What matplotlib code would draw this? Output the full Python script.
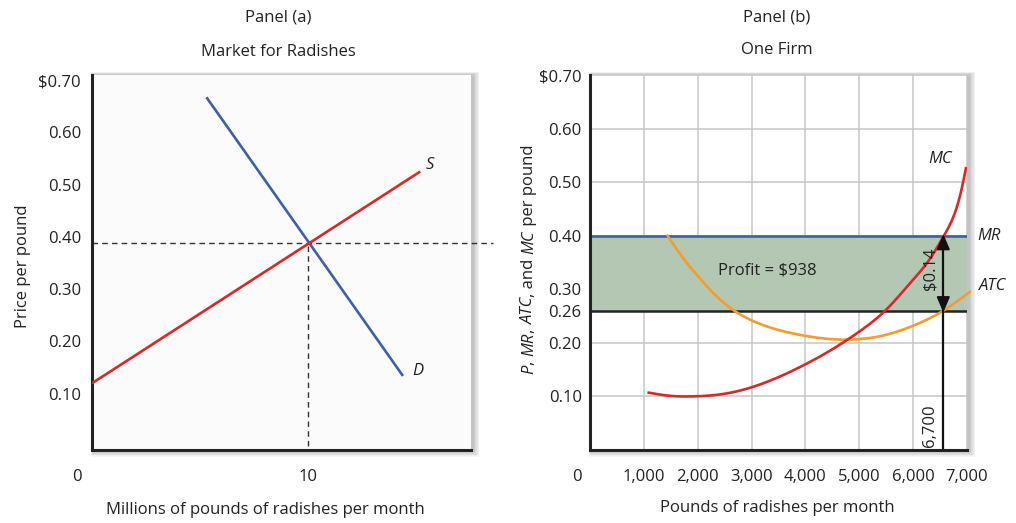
import numpy as np
import matplotlib
matplotlib.use("Agg")
import matplotlib.pyplot as plt
from matplotlib.patches import Rectangle, Polygon

plt.rcParams['font.family'] = ['Open Sans', 'DejaVu Sans']

# ---------------- data ----------------
# Panel (a): market
supply_q = [0.0, 15.2]
supply_p = [0.12, 0.525]
demand_q = [5.3, 14.4]
demand_p = [0.667, 0.134]
eq_q = 10.0
eq_p = 0.388
a_xticks = [10]
a_yticks = [0.10, 0.20, 0.30, 0.40, 0.50, 0.60, 0.70]
a_yticklabels = ["0.10", "0.20", "0.30", "0.40", "0.50", "0.60", "$0.70"]

# Panel (b): one firm
mc_q = [1090, 1500, 1870, 2500, 3000, 3500, 4000, 4500, 5000, 5500, 6000, 6300, 6560, 6800, 6900, 6980]
mc_c = [0.107, 0.101, 0.100, 0.105, 0.117, 0.136, 0.160, 0.188, 0.221, 0.262, 0.318, 0.355, 0.398, 0.450, 0.487, 0.526]
atc_q = [1440, 1700, 2000, 2300, 2650, 3000, 3500, 4000, 4700, 5000, 5500, 6000, 6560, 7050]
atc_c = [0.400, 0.362, 0.325, 0.292, 0.262, 0.242, 0.224, 0.213, 0.206, 0.207, 0.215, 0.232, 0.260, 0.295]
mr_price = 0.40
atc_at_q = 0.26
q_star = 6560
b_xticks = [1000, 2000, 3000, 4000, 5000, 6000, 7000]
b_xticklabels = ["1,000", "2,000", "3,000", "4,000", "5,000", "6,000", "7,000"]
b_yticks = [0.10, 0.20, 0.26, 0.30, 0.40, 0.50, 0.60, 0.70]
b_yticklabels = ["0.10", "0.20", "0.26", "0.30", "0.40", "0.50", "0.60", "$0.70"]
b_grid_y = [0.10, 0.20, 0.30, 0.40, 0.50, 0.60, 0.70]

RED = "#d7282c"
BLUE = "#3d60a6"
ORANGE = "#f39c2f"
GREEN = "#b4c7b3"
GRID = "#c6c6c6"
TXT = "#222222"
FS = 12


def natural_spline(xs, ys, n=400):
    x = np.asarray(xs, float); y = np.asarray(ys, float)
    m = len(x)
    h = np.diff(x)
    A = np.zeros((m, m)); r = np.zeros(m)
    A[0, 0] = A[-1, -1] = 1.0
    for i in range(1, m - 1):
        A[i, i - 1] = h[i - 1]
        A[i, i] = 2 * (h[i - 1] + h[i])
        A[i, i + 1] = h[i]
        r[i] = 6 * ((y[i + 1] - y[i]) / h[i] - (y[i] - y[i - 1]) / h[i - 1])
    M = np.linalg.solve(A, r)
    xx = np.linspace(x[0], x[-1], n)
    k = np.clip(np.searchsorted(x, xx) - 1, 0, m - 2)
    x0, x1, hk = x[k], x[k + 1], h[k]
    yy = (M[k] * (x1 - xx) ** 3 / (6 * hk) + M[k + 1] * (xx - x0) ** 3 / (6 * hk)
          + (y[k] / hk - M[k] * hk / 6) * (x1 - xx) + (y[k + 1] / hk - M[k + 1] * hk / 6) * (xx - x0))
    return xx, yy


W, H = 1016, 523
fig = plt.figure(figsize=(W / 100, H / 100), dpi=100)
fig.patch.set_facecolor("white")


def fx(px):
    return px / W


def fy(py):
    return 1 - py / H


def add_shadow(l, t, r, b):
    for k in range(1, 9):
        rect = Rectangle((fx(l - k * 0.4 + 2), fy(b + k * 0.9)),
                         fx(r - l + k * 1.2), (b - t + k * 1.3) / H,
                         transform=fig.transFigure, facecolor="black",
                         alpha=0.03, edgecolor="none", zorder=-5)
        fig.patches.append(rect)


# ---------- Panel (a) ----------
la, ra, ta, ba = 92, 471, 75, 450
axa = fig.add_axes([fx(la), fy(ba), fx(ra - la), (ba - ta) / H])
add_shadow(la, ta, ra, ba)
axa.set_facecolor("#fbfbfb")
axa.set_xlim(0, 17.55)
axa.set_ylim(-0.0076, 0.7096)
for s in ("top", "right"):
    axa.spines[s].set_visible(False)
for s in ("left", "bottom"):
    axa.spines[s].set_linewidth(2.2)
    axa.spines[s].set_color(TXT)
axa.set_xticks(a_xticks)
axa.set_xticklabels([str(v) for v in a_xticks])
axa.set_yticks(a_yticks)
axa.set_yticklabels(a_yticklabels)
axa.tick_params(length=0, labelsize=FS, colors=TXT)
axa.tick_params(axis="y", pad=8)
axa.tick_params(axis="x", pad=14)
fig.text(fx(77), fy(477), "0", fontsize=FS, color=TXT, ha="center", va="center")

axa.plot(supply_q, supply_p, color=RED, lw=1.9, solid_capstyle="butt", zorder=4)
axa.plot(demand_q, demand_p, color=BLUE, lw=1.9, solid_capstyle="butt", zorder=3)
axa.plot([0, 18.56], [eq_p, eq_p], color="#333333", lw=1.0, ls=(0, (4, 3)), clip_on=False, zorder=2)
axa.plot([eq_q, eq_q], [0, eq_p], color="#333333", lw=1.0, ls=(0, (4, 3)), zorder=2)
axa.text(15.65, 0.537, "S", fontsize=FS, style="italic", color=TXT, ha="center", va="center")
axa.text(15.1, 0.143, "D", fontsize=FS, style="italic", color=TXT, ha="center", va="center")

fig.text(fx(278), fy(17), "Panel (a)", fontsize=FS, ha="center", va="center", color=TXT)
fig.text(fx(278), fy(52), "Market for Radishes", fontsize=FS, ha="center", va="center", color=TXT)
fig.text(fx(265), fy(510), "Millions of pounds of radishes per month", fontsize=FS, ha="center",
         va="center", color=TXT)
fig.text(fx(23), fy(266), "Price per pound", fontsize=FS, rotation=90, ha="center", va="center",
         color=TXT)

# ---------- Panel (b) ----------
lb, rb, tb, bb = 590, 967, 75, 450
axb = fig.add_axes([fx(lb), fy(bb), fx(rb - lb), (bb - tb) / H])
add_shadow(lb, tb, rb, bb)
axb.set_facecolor("white")
axb.set_xlim(0, 7000)
axb.set_ylim(0, 0.70)
for s in ("top", "right"):
    axb.spines[s].set_visible(False)
for s in ("left", "bottom"):
    axb.spines[s].set_linewidth(2.2)
    axb.spines[s].set_color(TXT)
    axb.spines[s].set_zorder(10)
axb.set_xticks(b_xticks)
axb.set_xticklabels(b_xticklabels)
axb.set_yticks(b_yticks)
axb.set_yticklabels(b_yticklabels)
axb.tick_params(length=0, labelsize=FS, colors=TXT)
axb.tick_params(axis="y", pad=6)
axb.tick_params(axis="x", pad=14)
fig.text(fx(577), fy(477), "0", fontsize=FS, color=TXT, ha="center", va="center")

for gx in b_xticks:
    axb.axvline(gx, color=GRID, lw=1.1, zorder=1)
for gy in b_grid_y:
    axb.axhline(gy, color=GRID, lw=1.1, zorder=1)

axb.fill_between([0, 7000], atc_at_q, mr_price, color=GREEN, zorder=2, lw=0)
axb.axhline(mr_price, color=BLUE, lw=1.9, zorder=3)
axb.axhline(atc_at_q, color=TXT, lw=1.8, zorder=3)

ax_, ay_ = natural_spline(atc_q, atc_c)
axb.plot(ax_, ay_, color=ORANGE, lw=1.9, zorder=5, clip_on=False)
mx_, my_ = natural_spline(mc_q, mc_c)
axb.plot(mx_, my_, color=RED, lw=1.9, zorder=6)

axb.plot([q_star, q_star], [0, mr_price - 0.02], color="#111111", lw=1.6, zorder=7)
hw, hh = 110, 0.026
axb.add_patch(Polygon([[q_star, mr_price], [q_star - hw, mr_price - hh], [q_star + hw, mr_price - hh]],
                      closed=True, color="#111111", zorder=8))
axb.add_patch(Polygon([[q_star, atc_at_q], [q_star - hw, atc_at_q + hh], [q_star + hw, atc_at_q + hh]],
                      closed=True, color="#111111", zorder=8))
axb.text(q_star - 240, (mr_price + atc_at_q) / 2 + 0.008, "$0.14", rotation=90, fontsize=FS,
         ha="center", va="center", color=TXT, zorder=9)
axb.text(q_star - 240, 0.045, "6,700", rotation=90, fontsize=FS, ha="center", va="center",
         color=TXT, zorder=9)
axb.text(3300, 0.335, "Profit = $938", fontsize=FS, ha="center", va="center", color=TXT, zorder=9)

axb.text(6500, 0.544, "MC", fontsize=FS, style="italic", ha="center", va="center", color=TXT)
axb.text(7200, 0.40, "MR", fontsize=FS, style="italic", ha="left", va="center", color=TXT,
         clip_on=False)
axb.text(7230, 0.307, "ATC", fontsize=FS, style="italic", ha="left", va="center", color=TXT,
         clip_on=False)

fig.text(fx(777), fy(17), "Panel (b)", fontsize=FS, ha="center", va="center", color=TXT)
fig.text(fx(777), fy(50), "One Firm", fontsize=FS, ha="center", va="center", color=TXT)
fig.text(fx(777), fy(508), "Pounds of radishes per month", fontsize=FS, ha="center", va="center",
         color=TXT)

# y label with italic pieces, stacked bottom -> top
pieces = [("P", True), (", ", False), ("MR", True), (", ", False), ("ATC", True), (", and ", False),
          ("MC", True), (" per pound", False)]
prev = None
for txt, it in pieces:
    style = "italic" if it else "normal"
    if prev is None:
        prev = fig.text(fx(521), fy(374), txt, ha="left", va="bottom", fontsize=FS, rotation=90,
                        color=TXT, style=style)
    else:
        prev = axb.annotate(txt, xy=(0, 1), xycoords=prev, ha="left", va="bottom", fontsize=FS,
                            rotation=90, color=TXT, style=style, annotation_clip=False)

fig.savefig("out.png", dpi=100, facecolor="white")
